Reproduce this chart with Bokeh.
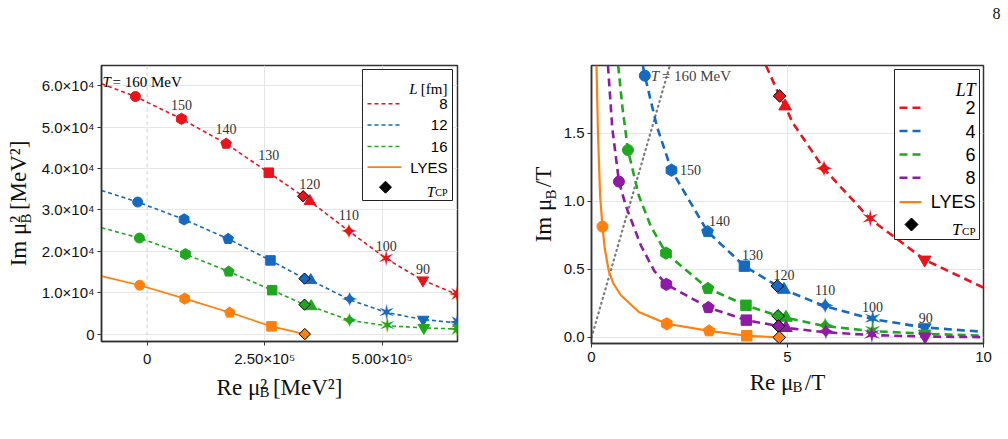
import math

from bokeh.core.properties import value
from bokeh.embed import file_html
from bokeh.layouts import row
from bokeh.models import (Arrow, BoxAnnotation, FixedTicker, Label, PolyAnnotation, Range1d,
                          Span)
from bokeh.plotting import figure
from bokeh.resources import INLINE

SANS = "Liberation Sans"
SERIF = "Liberation Serif"
SYMBOLS = "DejaVu Sans"

RED, BLUE, GREEN, PURPLE, ORANGE = "#e8141c", "#1569c0", "#1fa81f", "#8e1aa6", "#ff800e"
GRID = "#e6e6e6"
INK = "#222222"
NBSP = "\u00a0"

# ---------------------------------------------------------------- data
# temperature (MeV) -> marker shape
marker_of = {160: "circle", 150: "hexagon", 140: "pentagon", 130: "square",
             120: "triangle", 110: "star4", 100: "star6", 90: "inverted_triangle",
             80: "star8"}

# left panel: complex mu_B^2 plane (MeV^2), box sizes L = 8, 12, 16 fm and LYES
temps_L = [160, 150, 140, 130, 120, 110, 100, 90, 80]
re_mu2_L8 = [-24900, 73000, 168000, 258700, 346000, 429000, 508500, 586400, 659600]
im_mu2_L8 = [57400, 52000, 46000, 39000, 32100, 24900, 18200, 13000, 9500]
re_mu2_L12 = [-20000, 78700, 172300, 262300, 348000, 430400, 509100, 587200, 659600]
im_mu2_L12 = [31900, 27700, 23000, 17800, 13000, 8300, 5200, 3500, 2700]
re_mu2_L16 = [-16400, 81500, 173600, 266000, 348900, 430400, 510600, 588500, 659600]
im_mu2_L16 = [23200, 19300, 15100, 10600, 6700, 3300, 2000, 1500, 1200]
temps_lyes = [160, 150, 140, 130]
re_mu2_lyes = [-15700, 80000, 175700, 264500]
im_mu2_lyes = [11800, 8550, 5200, 1860]

# critical endpoint T_CP for L = 8, 12, 16 and LYES
tcp_re_mu2 = [331900, 334700, 334700, 335300]
tcp_im_mu2 = [33300, 13400, 7100, 0]

# fitted curves
fit_L8_x = [-97000, -24900, 73000, 168000, 258700, 331900, 346000, 429000, 508500, 586400, 665000]
fit_L8_y = [60500, 57400, 52000, 46000, 39000, 33300, 32100, 24900, 18200, 13000, 9300]
fit_L12_x = [-97000, -20000, 78700, 172300, 262300, 334700, 348000, 430400, 509100, 587200, 665000]
fit_L12_y = [34700, 31900, 27700, 23000, 17800, 13400, 13000, 8300, 5200, 3500, 2650]
fit_L16_x = [-97000, -16400, 81500, 173600, 266000, 334700, 348900, 430400, 510600, 588500, 665000]
fit_L16_y = [25700, 23200, 19300, 15100, 10600, 7100, 6700, 3300, 2000, 1500, 1200]
fit_lyes_x = [-97000, -15700, 80000, 175700, 264500, 335300]
fit_lyes_y = [14000, 11800, 8550, 5200, 1860, 0]

# right panel: mu_B / T plane, LT = 2, 4, 6, 8 and LYES
temps_LT2 = [120, 110, 100, 90]
re_LT2 = [4.94, 5.93, 7.11, 8.50]
im_LT2 = [1.70, 1.24, 0.871, 0.571]
temps_LT = [160, 150, 140, 130, 120, 110, 100, 90]
re_LT4 = [1.36, 2.04, 2.96, 3.90, 4.91, 5.96, 7.17, 8.50]
im_LT4 = [1.925, 1.23, 0.778, 0.524, 0.351, 0.229, 0.134, 0.073]
re_LT6 = [0.93, 1.90, 2.97, 3.94, 4.96, 5.96, 7.17, 8.50]
im_LT6 = [1.378, 0.62, 0.36, 0.236, 0.145, 0.083, 0.046, 0.027]
re_LT8 = [0.70, 1.91, 2.98, 3.95, 4.96, 5.98, 7.15, 8.51]
im_LT8 = [1.146, 0.39, 0.22, 0.127, 0.07, 0.037, 0.017, 0.006]
re_lyes = [0.28, 1.92, 3.00, 3.96]
im_lyes = [0.815, 0.10, 0.048, 0.012]

tcp_re = [4.80, 4.74, 4.76, 4.77, 4.79]
tcp_im = [1.776, 0.378, 0.158, 0.083, 0.0]

fit_LT2_x = [4.45, 4.80, 4.94, 5.13, 5.93, 7.11, 8.50, 10.0]
fit_LT2_y = [2.0, 1.776, 1.70, 1.58, 1.24, 0.871, 0.571, 0.366]
fit_LT4_x = [1.31, 1.36, 1.67, 2.04, 2.96, 3.90, 4.74, 4.91, 5.96, 7.17, 8.50, 10.0]
fit_LT4_y = [2.0, 1.925, 1.55, 1.23, 0.778, 0.524, 0.378, 0.351, 0.229, 0.134, 0.073, 0.041]
fit_LT6_x = [0.68, 0.79, 0.93, 1.21, 1.51, 1.90, 2.97, 3.94, 4.76, 4.96, 5.96, 7.17, 8.50, 10.0]
fit_LT6_y = [2.0, 1.69, 1.378, 1.04, 0.82, 0.62, 0.36, 0.236, 0.158, 0.145, 0.083, 0.046, 0.027, 0.012]
fit_LT8_x = [0.42, 0.53, 0.70, 0.875, 1.26, 1.60, 1.91, 2.98, 3.95, 4.77, 4.96, 5.98, 7.15, 8.51, 10.0]
fit_LT8_y = [2.0, 1.54, 1.146, 0.968, 0.676, 0.49, 0.39, 0.22, 0.127, 0.083, 0.07, 0.037, 0.017, 0.006, 0.002]
fit_lyes_r_x = [0.128, 0.165, 0.22, 0.28, 0.34, 0.44, 0.55, 0.75, 1.21, 1.92, 3.00, 3.96, 4.79]
fit_lyes_r_y = [2.0, 1.5, 1.04, 0.815, 0.65, 0.49, 0.40, 0.31, 0.187, 0.10, 0.048, 0.012, 0.0]

# Re mu_B = Im mu_B
diag_x = [0.0, 2.05]
diag_y = [0.0, 2.05]

# tick labels
left_xticks = [0, 250000, 500000]
left_xlabels = ["0", "2.50×10⁵", "5.00×10⁵"]
left_yticks = [0, 10000, 20000, 30000, 40000, 50000, 60000]
left_ylabels = ["0", "1.0×10⁴", "2.0×10⁴", "3.0×10⁴", "4.0×10⁴", "5.0×10⁴", "6.0×10⁴"]
right_xticks = [0, 5, 10]
right_xlabels = ["0", "5", "10"]
right_yticks = [0.0, 0.5, 1.0, 1.5]
right_ylabels = ["0.0", "0.5", "1.0", "1.5"]

STAR_CHAR = {"star4": "✦", "star6": "✶", "star8": "✷"}


# ---------------------------------------------------------------- helpers
def make_figure(fw, fh, left, right, top, bottom, xr, yr):
    p = figure(frame_width=fw, frame_height=fh, min_border_left=left, min_border_right=right,
               min_border_top=top, min_border_bottom=bottom, x_range=Range1d(*xr),
               y_range=Range1d(*yr), output_backend="svg", toolbar_location=None)
    p.background_fill_color = "white"
    p.border_fill_color = "white"
    p.outline_line_color = "#333333"
    p.outline_line_width = 1.5
    p.outline_line_alpha = 1.0
    for ax in (p.xaxis, p.yaxis):
        ax.axis_line_color = "#333333"
        ax.axis_line_width = 1.5
        ax.major_tick_line_color = "#333333"
        ax.major_tick_in = 0
        ax.major_tick_out = 4
        ax.minor_tick_in = 0
        ax.minor_tick_out = 0
        ax.major_label_text_font = SANS
        ax.major_label_text_color = "#111111"
        ax.axis_label_text_font = SERIF
        ax.axis_label_text_font_size = "23px"
        ax.axis_label_text_font_style = "normal"
        ax.axis_label_text_color = "#111111"
    for g in (p.xgrid, p.ygrid):
        g.grid_line_color = GRID
        g.grid_line_width = 1
    return p


def set_ticks(p, xt, xl, yt, yl, size):
    p.xaxis.ticker = FixedTicker(ticks=xt)
    p.yaxis.ticker = FixedTicker(ticks=yt)
    p.xaxis.major_label_overrides = {t: s for t, s in zip(xt, xl)}
    p.yaxis.major_label_overrides = {t: s for t, s in zip(yt, yl)}
    p.xaxis.major_label_text_font_size = size
    p.yaxis.major_label_text_font_size = size
    p.xaxis.major_label_standoff = 4
    p.yaxis.major_label_standoff = 3


def draw_points(p, xs, ys, ts, color, s):
    kinds = [marker_of[t] for t in ts]
    for kind in dict.fromkeys(kinds):
        x = [xv for xv, k in zip(xs, kinds) if k == kind]
        y = [yv for yv, k in zip(ys, kinds) if k == kind]
        if kind in ("circle", "square"):
            p.scatter(x, y, marker=kind, size=s if kind == "circle" else s * 0.95,
                      fill_color=color, line_color=color)
        elif kind in ("triangle", "inverted_triangle"):
            p.scatter(x, y, marker=kind, size=s * 1.15, fill_color=color, line_color=color)
        elif kind in ("hexagon", "pentagon"):
            n = 6 if kind == "hexagon" else 5
            if hasattr(p, "ngon"):
                p.ngon(x=x, y=y, n=n, radius=s * 0.56, radius_units="screen",
                       fill_color=color, line_color=color)
            else:
                p.scatter(x, y, marker="hex", size=s, fill_color=color, line_color=color)
        else:
            p.text(x=x, y=y, text=[STAR_CHAR[kind]] * len(x), text_font=value(SYMBOLS),
                   text_font_size=f"{round(s * 2.2)}px", text_align="center",
                   text_baseline="middle", text_color=color)


def draw_tcp(p, xs, ys, colors, s):
    p.scatter(xs, ys, marker="square", angle=math.pi / 4, size=s, fill_color=colors,
              line_color="black", line_width=1)


def side_text(p, side, txt, x, y, size, angle=0.0, align="left"):
    """Text placed in a side panel, offset in pixels from that panel."""
    p.add_layout(Label(x=x, y=y, x_units="screen", y_units="screen", text=txt, text_font=SERIF,
                       text_font_size=f"{size}px", angle=angle, text_align=align,
                       text_color="#111111"), side)


class Frame:
    """Pixel placement inside a plot frame (legend boxes and in-plot notes)."""

    def __init__(self, p, left, bottom):
        self.p, self.left, self.bottom = p, left, bottom

    def sx(self, px):
        return px - self.left

    def sy(self, py):
        return self.bottom - py

    def text(self, txt, px, py, size, style="normal", font=SERIF, align="left",
             baseline="alphabetic", color="black"):
        self.p.add_layout(Label(x=self.sx(px), y=self.sy(py), x_units="screen", y_units="screen",
                                text=txt, text_font=font, text_font_size=f"{size}px",
                                text_font_style=style, text_align=align, text_baseline=baseline,
                                text_color=color))

    def legend_box(self, x0, x1, y0, y1):
        self.p.add_layout(BoxAnnotation(left=self.sx(x0), right=self.sx(x1), top=self.sy(y0),
                                        bottom=self.sy(y1), left_units="screen",
                                        right_units="screen", top_units="screen",
                                        bottom_units="screen", fill_color="white", fill_alpha=1,
                                        line_color=INK, line_alpha=1, line_width=1))

    def legend_line(self, x0, x1, py, color, width, dash):
        self.p.add_layout(Arrow(end=None, x_start=self.sx(x0), x_end=self.sx(x1),
                                y_start=self.sy(py), y_end=self.sy(py), start_units="screen",
                                end_units="screen", line_color=color, line_width=width,
                                line_dash=dash))

    def legend_diamond(self, cx, cy, r):
        self.p.add_layout(PolyAnnotation(xs=[self.sx(cx), self.sx(cx + r), self.sx(cx), self.sx(cx - r)],
                                         ys=[self.sy(cy - r), self.sy(cy), self.sy(cy + r), self.sy(cy)],
                                         xs_units="screen", ys_units="screen", fill_color="black",
                                         fill_alpha=1, line_color="black", line_alpha=1))


# ---------------------------------------------------------------- left panel
p1 = make_figure(356, 276, 101, 43, 65, 98, (-97000, 660000), (-1800, 64900))
set_ticks(p1, left_xticks, left_xlabels, left_yticks, left_ylabels, "15px")
p1.xgrid.ticker = FixedTicker(ticks=[250000, 500000])
p1.add_layout(Span(location=0, dimension="height", line_color="#d0d0d0", line_width=1,
                   line_dash="4 3", level="underlay"))
p1.xaxis.axis_label = "Re μ² [MeV²]"
p1.yaxis.axis_label = "Im μ² [MeV²]"
p1.xaxis.axis_label_standoff = 5
p1.yaxis.axis_label_standoff = 8

for fx, fy, c in ((fit_L8_x, fit_L8_y, RED), (fit_L12_x, fit_L12_y, BLUE),
                  (fit_L16_x, fit_L16_y, GREEN)):
    p1.line(fx, fy, line_color=c, line_width=1.6, line_dash="4 3")
p1.line(fit_lyes_x, fit_lyes_y, line_color=ORANGE, line_width=1.7)

draw_points(p1, re_mu2_L8, im_mu2_L8, temps_L, RED, 10)
draw_points(p1, re_mu2_L12, im_mu2_L12, temps_L, BLUE, 10)
draw_points(p1, re_mu2_L16, im_mu2_L16, temps_L, GREEN, 10)
draw_points(p1, re_mu2_lyes, im_mu2_lyes, temps_lyes, ORANGE, 10)
draw_tcp(p1, tcp_re_mu2, tcp_im_mu2, [RED, BLUE, GREEN, ORANGE], 8)

# temperature labels along the L = 8 fm curve
lbl_idx = [1, 2, 3, 4, 5, 6, 7]
p1.text(x=[re_mu2_L8[i] for i in lbl_idx], y=[im_mu2_L8[i] for i in lbl_idx],
        text=[str(temps_L[i]) for i in lbl_idx], y_offset=[-14, -15, -18, -17, -16, -13, -11],
        text_font=value(SERIF), text_font_size="14px", text_align="center",
        text_baseline="middle", text_color="#333333")

f1 = Frame(p1, 101, 341)
f1.text("T", 102, 81.5, 15, "italic")
f1.text("= 160 MeV", 112, 81.5, 15)

# subscript B of mu_B in both axis titles
side_text(p1, "below", "B", 158, 19, 15)
side_text(p1, "right", "B", -424, 118, 15, angle=math.pi / 2)

# legend
f1.legend_box(362, 452, 69, 200)
f1.text("[fm]", 447, 88.5, 15, align="right")
f1.text("L", 417, 88.5, 15, "italic", align="right")
for yy, c, name in ((103.3, RED, "8"), (124.5, BLUE, "12"), (146, GREEN, "16")):
    f1.legend_line(367, 401, yy, c, 1.6, "4 3")
    f1.text(name, 447, yy, 15, font=SANS, align="right", baseline="middle")
f1.legend_line(367, 401, 166.7, ORANGE, 1.7, "solid")
f1.text("LYES", 447, 166.7, 15, font=SANS, align="right", baseline="middle")
f1.legend_diamond(385, 186.7, 6)
f1.text("CP", 447, 192, 10, align="right")
f1.text("T", 434.5, 191, 15, "italic", align="right")

# ---------------------------------------------------------------- right panel
p2 = make_figure(392, 278, 91, 25, 65, 96, (0, 10), (-0.045, 2.0))
set_ticks(p2, right_xticks, right_xlabels, right_yticks, right_ylabels, "15px")
p2.xgrid.ticker = FixedTicker(ticks=[5])
p2.xaxis.axis_label = f"Re μ{NBSP}{NBSP}/T"
p2.yaxis.axis_label = f"Im μ{NBSP}{NBSP}/T"
p2.xaxis.axis_label_standoff = 5
p2.yaxis.axis_label_standoff = 5

p2.line(diag_x, diag_y, line_color="#7a7a7a", line_width=2.2, line_dash="1 4", line_cap="round")
for fx, fy, c in ((fit_LT2_x, fit_LT2_y, RED), (fit_LT4_x, fit_LT4_y, BLUE),
                  (fit_LT6_x, fit_LT6_y, GREEN), (fit_LT8_x, fit_LT8_y, PURPLE)):
    p2.line(fx, fy, line_color=c, line_width=2.6, line_dash="8 5")
p2.line(fit_lyes_r_x, fit_lyes_r_y, line_color=ORANGE, line_width=2.2)

draw_points(p2, re_LT2, im_LT2, temps_LT2, RED, 11)
draw_points(p2, re_LT4, im_LT4, temps_LT, BLUE, 11)
draw_points(p2, re_LT6, im_LT6, temps_LT, GREEN, 11)
draw_points(p2, re_LT8, im_LT8, temps_LT, PURPLE, 11)
draw_points(p2, re_lyes, im_lyes, temps_lyes, ORANGE, 11)
draw_tcp(p2, tcp_re, tcp_im, [RED, BLUE, GREEN, PURPLE, ORANGE], 9)

# temperature labels along the LT = 4 curve
p2.text(x=re_LT4[1:], y=im_LT4[1:], text=[str(t) for t in temps_LT[1:]],
        x_offset=[19, 12, 8, 0, 0, 0, 1], y_offset=[0, -11, -11, -15, -16, -12, -9],
        text_font=value(SERIF), text_font_size="14px", text_align="center",
        text_baseline="middle", text_color="#333333")
p2.add_layout(Label(x=re_LT4[0], y=im_LT4[0], x_offset=6, text="T", text_font=SERIF,
                    text_font_size="15px", text_font_style="italic", text_baseline="middle"))
p2.add_layout(Label(x=re_LT4[0], y=im_LT4[0], x_offset=17, text="= 160 MeV", text_font=SERIF,
                    text_font_size="15px", text_baseline="middle"))

side_text(p2, "below", "B", 201, 19, 15)
side_text(p2, "right", "B", -425, 144, 15, angle=math.pi / 2)
side_text(p2, "above", "8", 405, 47, 16, align="center")

f2 = Frame(p2, 591, 343)
f2.legend_box(894, 979, 69, 239)
f2.text("LT", 975, 89, 18, "italic", align="right")
for yy, c, name in ((107.3, RED, "2"), (130.5, BLUE, "4"), (154, GREEN, "6"), (177.3, PURPLE, "8")):
    f2.legend_line(899, 921, yy, c, 2.6, "8 5")
    f2.text(name, 975, yy, 18, font=SANS, align="right", baseline="middle")
f2.legend_line(899, 921, 201.7, ORANGE, 2.2, "solid")
f2.text("LYES", 975, 201.7, 18, font=SANS, align="right", baseline="middle")
f2.legend_diamond(911, 224, 6.5)
f2.text("CP", 975, 230, 11, align="right")
f2.text("T", 961, 229, 17, "italic", align="right")

layout = row(p1, p2)
open("out.html", "w").write(file_html(layout, INLINE))
